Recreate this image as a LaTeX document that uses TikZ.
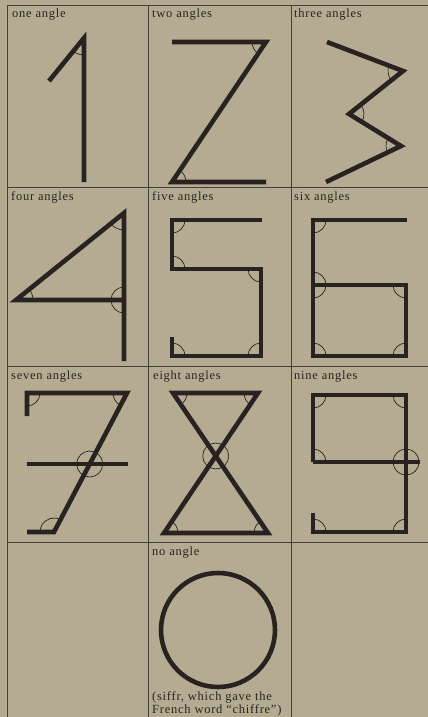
\documentclass[tikz,border=0pt]{standalone}
\usepackage{fontspec}
\setmainfont{Liberation Serif}[LetterSpace=6]
\usetikzlibrary{angles}
\definecolor{papel}{RGB}{181,171,146}
\definecolor{tinta}{RGB}{40,35,32}
\definecolor{grade}{RGB}{70,64,58}

\begin{document}
\begin{tikzpicture}[x=1pt,y=-1pt,font=\fontsize{12.5}{14}\selectfont,
    traco/.style={draw=tinta,line width=4.6pt,line join=miter},
    arco/.style={draw=tinta,line width=0.7pt,angle radius=#1},
    arco/.default=13pt,
    cruz/.style={draw=tinta,line width=0.7pt},
    rotulo/.style={anchor=base west,inner sep=0,text=tinta}]

  \useasboundingbox (0,0) rectangle (428,717);
  % fundo e grade
  \fill[papel] (0,0) rectangle (428,717);
  \foreach \y in {5,187,366,542} \draw[grade,line width=0.8pt] (7,\y) -- (428,\y);
  \foreach \x in {7,148,291} \draw[grade,line width=0.8pt] (\x,5) -- (\x,717);

  % rotulos das celulas
  \foreach \x/\y/\t in {12/18/one angle, 152/18/two angles, 294/18/three angles,
      11/200/four angles, 152/200/five angles, 294/200/six angles,
      11/379/seven angles, 153/379/eight angles, 294/379/nine angles,
      152/555/no angle}
    \node[rotulo] (r\x-\y) at (\x,\y) {\t};
  \node[rotulo] (nota1) at (152,700) {(siffr, which gave the};
  \node[rotulo] (nota2) at (152,713) {French word “chiffre”)};

  % 1
  \coordinate (u1) at (49,81); \coordinate (u2) at (84,38); \coordinate (u3) at (84,182);
  \draw[traco] (u1) -- (u2) -- (u3);
  \pic[arco=17pt] {angle=u1--u2--u3};

  % 2
  \coordinate (d1) at (172,42); \coordinate (d2) at (266,42);
  \coordinate (d3) at (172,182); \coordinate (d4) at (266,182);
  \draw[traco] (d1) -- (d2) -- (d3) -- (d4);
  \pic[arco=14pt] {angle=d1--d2--d3};
  \pic[arco=14pt] {angle=d4--d3--d2};

  % 3
  \coordinate (t1) at (327,42); \coordinate (t2) at (403,71); \coordinate (t3) at (349,114);
  \coordinate (t4) at (401,146); \coordinate (t5) at (326,182);
  \draw[traco] (t1) -- (t2) -- (t3) -- (t4) -- (t5);
  \pic[arco=15pt] {angle=t1--t2--t3};
  \pic[arco=15pt] {angle=t4--t3--t2};
  \pic[arco=15pt] {angle=t3--t4--t5};

  % 4
  \coordinate (q1) at (124,213); \coordinate (q2) at (16,300);
  \coordinate (q3) at (124,300); \coordinate (q4) at (124,361);
  \draw[traco] (q4) -- (q1) -- (q2) -- (q3);
  \pic[arco=17pt] {angle=q2--q1--q4};
  \pic[arco=17pt] {angle=q3--q2--q1};
  \pic[arco] {angle=q1--q3--q2};
  \pic[arco] {angle=q2--q3--q4};

  % 5
  \coordinate (c1) at (262,220); \coordinate (c2) at (172,220); \coordinate (c3) at (172,269);
  \coordinate (c4) at (261,269); \coordinate (c5) at (261,356); \coordinate (c6) at (172,356);
  \coordinate (c7) at (172,337);
  \draw[traco] (c1) -- (c2) -- (c3) -- (c4) -- (c5) -- (c6) -- (c7);
  \pic[arco] {angle=c3--c2--c1};
  \pic[arco] {angle=c4--c3--c2};
  \pic[arco] {angle=c3--c4--c5};
  \pic[arco] {angle=c4--c5--c6};
  \pic[arco] {angle=c5--c6--c7};

  % 6
  \coordinate (s1) at (407,220); \coordinate (s2) at (313,220); \coordinate (s3) at (313,285);
  \coordinate (s4) at (406,285); \coordinate (s5) at (406,356); \coordinate (s6) at (313,356);
  \draw[traco] (s1) -- (s2) -- (s6) -- (s5) -- (s4) -- (s3);
  \pic[arco] {angle=s6--s2--s1};
  \pic[arco] {angle=s4--s3--s2};
  \pic[arco] {angle=s6--s3--s4};
  \pic[arco] {angle=s3--s4--s5};
  \pic[arco] {angle=s4--s5--s6};
  \pic[arco] {angle=s5--s6--s2};

  % 7
  \coordinate (v1) at (27,416); \coordinate (v2) at (27,393); \coordinate (v3) at (127,393);
  \coordinate (v4) at (54,532); \coordinate (v5) at (27,532);
  \coordinate (h1) at (27,464); \coordinate (h2) at (128,464);
  \coordinate (vx) at (intersection of v3--v4 and h1--h2);
  \draw[traco] (v1) -- (v2) -- (v3) -- (v4) -- (v5);
  \draw[traco] (h1) -- (h2);
  \pic[arco] {angle=v1--v2--v3};
  \pic[arco=14pt] {angle=v2--v3--v4};
  \pic[arco=14pt] {angle=v3--v4--v5};
  \draw[cruz] (vx) circle[radius=13pt];

  % 8
  \coordinate (o1) at (173,393); \coordinate (o2) at (258,393);
  \coordinate (o3) at (164,533); \coordinate (o4) at (268,533);
  \coordinate (ox) at (intersection of o1--o4 and o2--o3);
  \draw[traco] (o1) -- (o2) -- (o3) -- (o4) -- cycle;
  \pic[arco=14pt] {angle=o4--o1--o2};
  \pic[arco=14pt] {angle=o1--o2--o3};
  \pic[arco=14pt] {angle=o4--o3--o2};
  \pic[arco=14pt] {angle=o1--o4--o3};
  \draw[cruz] (ox) circle[radius=13pt];

  % 9
  \coordinate (n1) at (313,395); \coordinate (n2) at (406,395); \coordinate (n3) at (313,462);
  \coordinate (n4) at (406,462); \coordinate (n5) at (420,462);
  \coordinate (n6) at (406,532); \coordinate (n7) at (313,532); \coordinate (n8) at (313,513);
  \draw[traco] (n3) -- (n1) -- (n2) -- (n6) -- (n7) -- (n8);
  \draw[traco] (n3) -- (n5);
  \pic[arco] {angle=n3--n1--n2};
  \pic[arco] {angle=n1--n2--n6};
  \pic[arco] {angle=n4--n3--n1};
  \pic[arco] {angle=n2--n6--n7};
  \pic[arco] {angle=n6--n7--n8};
  \draw[cruz] (n4) circle[radius=13pt];

  % 0
  \coordinate (z0) at (218,630);
  \draw[traco] (z0) circle[radius=57pt];
\end{tikzpicture}
\end{document}
